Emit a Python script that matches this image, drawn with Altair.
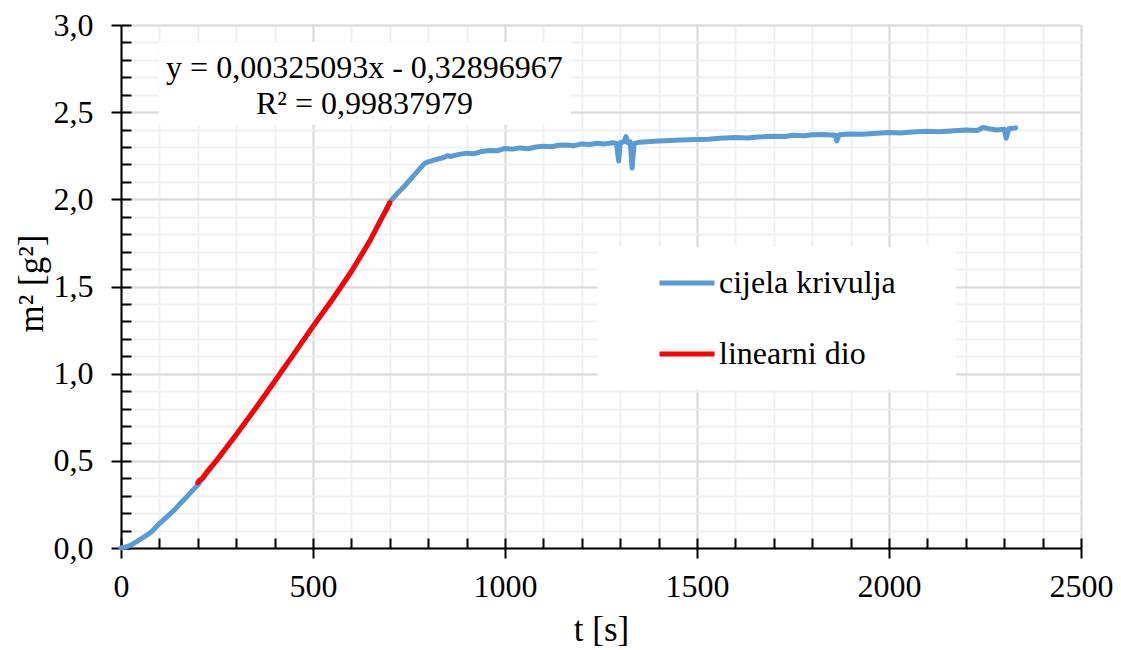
import altair as alt
import pandas as pd

# ---- data ----
t_all = [0, 10, 20, 30, 40, 50, 60, 70, 80, 90, 100, 110, 120, 130, 140, 150, 160, 170, 180, 190, 200,
         250, 300, 350, 400, 450, 500, 550, 600, 650, 700,
         710, 720, 740, 760, 780, 790, 800, 820, 840, 850, 860, 880, 900, 920, 940, 960, 980,
         1000, 1020, 1040, 1060, 1080, 1100, 1120, 1140, 1160, 1180, 1200, 1220, 1240, 1260, 1280,
         1290, 1296, 1300, 1310, 1315, 1320, 1326, 1331, 1336, 1350, 1380, 1400, 1430, 1460, 1500,
         1530, 1560, 1600, 1630, 1660, 1700, 1730, 1750, 1780, 1800, 1830, 1860, 1864, 1870, 1900,
         1930, 1960, 2000, 2030, 2060, 2100, 2130, 2160, 2200, 2230, 2245, 2260, 2280, 2300, 2305,
         2312, 2330]
m_all = [0.000, 0.005, 0.012, 0.022, 0.035, 0.050, 0.063, 0.078, 0.095, 0.118, 0.140, 0.160, 0.180,
         0.200, 0.220, 0.245, 0.268, 0.290, 0.315, 0.338, 0.362,
         0.505, 0.650, 0.800, 0.955, 1.112, 1.271, 1.424, 1.586, 1.770, 1.985,
         2.010, 2.035, 2.080, 2.130, 2.180, 2.205, 2.215, 2.228, 2.240, 2.250, 2.246, 2.258, 2.265,
         2.262, 2.275, 2.280, 2.278,
         2.292, 2.288, 2.295, 2.290, 2.300, 2.305, 2.302, 2.310, 2.312, 2.308, 2.318, 2.315, 2.322,
         2.318, 2.325,
         2.322, 2.220, 2.325, 2.330, 2.360, 2.325, 2.330, 2.180, 2.320, 2.328, 2.332, 2.335, 2.338,
         2.340, 2.343,
         2.345, 2.350, 2.355, 2.352, 2.358, 2.362, 2.360, 2.368, 2.365, 2.370, 2.372, 2.368, 2.335,
         2.370, 2.375,
         2.373, 2.378, 2.383, 2.380, 2.386, 2.390, 2.388, 2.392, 2.398, 2.395, 2.412, 2.405, 2.398,
         2.402, 2.350,
         2.405, 2.410]

t_lin = [200, 205, 212, 225, 250, 275, 300, 325, 350, 375, 400, 425, 450, 475, 500, 525, 550,
         575, 600, 625, 650, 675, 690, 700]
m_lin = [0.375, 0.390, 0.400, 0.440, 0.505, 0.578, 0.650, 0.725, 0.800, 0.878, 0.955, 1.035,
         1.112, 1.192, 1.271, 1.348, 1.424, 1.505, 1.586, 1.676, 1.770, 1.875, 1.935, 1.980]

series_names = ["cijela krivulja", "linearni dio"]
series_colors = ["#5B9BD5", "#FF0000"]

x_major = [0, 500, 1000, 1500, 2000, 2500]
x_minor = list(range(0, 2501, 100))
y_major = [0.0, 0.5, 1.0, 1.5, 2.0, 2.5, 3.0]
y_minor = [round(i * 0.1, 1) for i in range(31)]

eq_lines = ["y = 0,00325093x - 0,32896967", "R² = 0,99837979"]
eq_t = [634, 634]
eq_m = [2.695, 2.489]

# white boxes behind the equation and the legend
box_t0 = [98, 1241]
box_t1 = [1172, 2175]
box_m0 = [2.427, 0.908]
box_m1 = [2.903, 1.726]

FONT = "'Liberation Serif', 'Times New Roman', Times, serif"

df_all = pd.DataFrame({"t": t_all, "m": m_all, "serija": series_names[0]})
df_lin = pd.DataFrame({"t": t_lin, "m": m_lin, "serija": series_names[1]})
df_eq = pd.DataFrame({"t": eq_t, "m": eq_m, "txt": eq_lines})
df_box = pd.DataFrame({"t0": box_t0, "t1": box_t1, "m0": box_m0, "m1": box_m1})

xs = alt.Scale(domain=[0, 2500], nice=False)
ys = alt.Scale(domain=[0, 3], nice=False)
cs = alt.Scale(domain=series_names, range=series_colors)

legend = alt.Legend(
    title=None, orient="none", legendX=536, legendY=228,
    symbolType="stroke", symbolSize=3025, symbolStrokeWidth=5,
    labelFont=FONT, labelFontSize=32, labelColor="black", labelOffset=2,
    rowPadding=25, padding=0, labelLimit=400,
)

minor_x_axis = alt.Axis(
    orient="bottom", values=x_minor, offset=-10, domain=False, labels=False,
    tickSize=10, tickWidth=2, tickColor="black",
    grid=True, gridColor="#F0F0F0", gridWidth=2, title=None,
)
minor_y_axis = alt.Axis(
    orient="left", values=y_minor, offset=-10, domain=False, labels=False,
    tickSize=10, tickWidth=2, tickColor="black",
    grid=True, gridColor="#F0F0F0", gridWidth=2, title=None,
)
main_x_axis = alt.Axis(
    orient="bottom", values=x_major, format="d", labelFlush=False,
    tickSize=10, tickWidth=2, tickColor="black",
    domainColor="black", domainWidth=2,
    grid=True, gridColor="#D9D9D9", gridWidth=2,
    labelFont=FONT, labelFontSize=32, labelColor="black", labelPadding=13,
    title="t [s]", titleFont=FONT, titleFontSize=35, titleFontWeight="normal",
    titleColor="black", titleY=92, titleBaseline="alphabetic",
)
main_y_axis = alt.Axis(
    orient="left", values=y_major, labelFlush=False,
    labelExpr="replace(format(datum.value, '.1f'), '.', ',')",
    tickSize=10, tickWidth=2, tickColor="black",
    domainColor="black", domainWidth=2,
    grid=True, gridColor="#D9D9D9", gridWidth=2,
    labelFont=FONT, labelFontSize=32, labelColor="black", labelPadding=18,
    title="m² [g²]", titleFont=FONT, titleFontSize=35, titleFontWeight="normal",
    titleColor="black", titleX=-79, titleY=258, titleBaseline="alphabetic",
)

boxes = alt.Chart(df_box).mark_rect(fill="white", strokeWidth=0).encode(
    x=alt.X("t0:Q", scale=xs, axis=minor_x_axis),
    x2="t1:Q",
    y=alt.Y("m0:Q", scale=ys, axis=minor_y_axis),
    y2="m1:Q",
)

blue = alt.Chart(df_all).mark_line(strokeWidth=5, strokeCap="round", strokeJoin="round").encode(
    x=alt.X("t:Q", scale=xs, axis=main_x_axis),
    y=alt.Y("m:Q", scale=ys, axis=main_y_axis),
    color=alt.Color("serija:N", scale=cs, legend=legend),
)

red = alt.Chart(df_lin).mark_line(strokeWidth=5, strokeCap="round", strokeJoin="round").encode(
    x=alt.X("t:Q", scale=xs, axis=None),
    y=alt.Y("m:Q", scale=ys, axis=None),
    color=alt.Color("serija:N", scale=cs, legend=legend),
)

eq = alt.Chart(df_eq).mark_text(
    font=FONT, fontSize=32, color="black", align="center", baseline="alphabetic"
).encode(
    x=alt.X("t:Q", scale=xs, axis=None),
    y=alt.Y("m:Q", scale=ys, axis=None),
    text="txt:N",
)

chart = alt.layer(boxes, blue, red, eq).resolve_axis(
    x="independent", y="independent"
).properties(
    width=960, height=523,
    autosize=alt.AutoSizeParams(type="none"),
    padding={"left": 113, "top": 17, "right": 32, "bottom": 100},
    background="white",
).configure_view(strokeWidth=0)

chart.save("out.html", embed_options={"renderer": "svg", "actions": False})
